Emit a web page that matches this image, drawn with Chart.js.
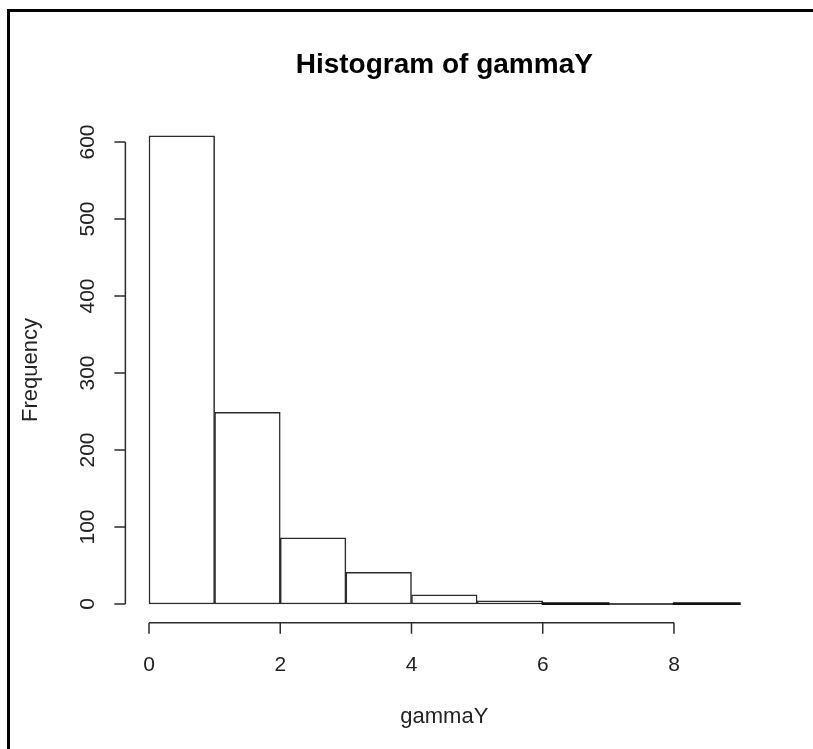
<!DOCTYPE html>
<html><head><meta charset="utf-8">
<script src="https://cdn.jsdelivr.net/npm/chart.js@4/dist/chart.umd.min.js"></script>
<style>html,body{margin:0;padding:0;background:#fff;overflow:hidden}#wrap{width:813px;height:749px;position:relative}</style>
</head><body><div id="wrap"><canvas id="c" width="813" height="749"></canvas></div>
<script>
const binStarts = [0, 1, 2, 3, 4, 5, 6, 7, 8];
const binEnds = [1, 2, 3, 4, 5, 6, 7, 8, 9];
const frequencies = [608, 249, 86, 41, 12, 4, 1, 0, 1];
const xTickValues = [0, 2, 4, 6, 8];
const yTickValues = [0, 100, 200, 300, 400, 500, 600];
const chartTitle = 'Histogram of gammaY';
const xLabel = 'gammaY';
const yLabel = 'Frequency';

const FONT = '"Liberation Sans", Arial, Helvetica, sans-serif';
const LINE = '#2b2b2b';

const barData = binStarts.map((s, i) => ({ x: (s + binEnds[i]) / 2, y: frequencies[i] }));

const rStyle = {
  id: 'rStyle',
  afterDatasetsDraw(chart) {
    const ctx = chart.ctx;
    const meta = chart.getDatasetMeta(0);
    ctx.save();
    ctx.strokeStyle = '#111';
    meta.data.forEach(el => {
      const p = el.getProps(['x', 'y', 'base', 'width'], true);
      const h = Math.abs(p.base - p.y);
      if (h < 3) {
        ctx.lineWidth = h > 0.1 ? 2.2 : 1.3;
        ctx.beginPath();
        ctx.rect(p.x - p.width / 2, Math.min(p.y, p.base), p.width, h);
        ctx.stroke();
      }
    });
    ctx.restore();
  },
  afterDraw(chart) {
    const ctx = chart.ctx;
    const xs = chart.scales.x, ys = chart.scales.y;
    const xMin = Math.min(...binStarts), xMax = Math.max(...binEnds);
    const yTop = Math.max(...frequencies);
    const axisX = xs.getPixelForValue(xMin - 0.04 * (xMax - xMin));
    const axisY = ys.getPixelForValue(-0.04 * yTop);
    const tick = 11;
    ctx.save();
    ctx.fillStyle = '#000';
    ctx.fillRect(7, 9, 3, 749);
    ctx.fillRect(7, 9, 813, 3);

    ctx.strokeStyle = LINE;
    ctx.lineWidth = 1.5;
    ctx.beginPath();
    ctx.moveTo(xs.getPixelForValue(xTickValues[0]), axisY);
    ctx.lineTo(xs.getPixelForValue(xTickValues[xTickValues.length - 1]), axisY);
    xTickValues.forEach(v => {
      const px = xs.getPixelForValue(v);
      ctx.moveTo(px, axisY);
      ctx.lineTo(px, axisY + tick);
    });
    ctx.moveTo(axisX, ys.getPixelForValue(yTickValues[0]));
    ctx.lineTo(axisX, ys.getPixelForValue(yTickValues[yTickValues.length - 1]));
    yTickValues.forEach(v => {
      const py = ys.getPixelForValue(v);
      ctx.moveTo(axisX, py);
      ctx.lineTo(axisX - tick, py);
    });
    ctx.stroke();

    ctx.fillStyle = '#222';
    ctx.font = '21px ' + FONT;
    ctx.textAlign = 'center';
    ctx.textBaseline = 'middle';
    xTickValues.forEach(v => {
      ctx.fillText(String(v), xs.getPixelForValue(v), 665);
    });
    yTickValues.forEach(v => {
      ctx.save();
      ctx.translate(88, ys.getPixelForValue(v));
      ctx.rotate(-Math.PI / 2);
      ctx.fillText(String(v), 0, 0);
      ctx.restore();
    });
    const cx = (xs.getPixelForValue(xMin - 0.04 * (xMax - xMin)) + xs.getPixelForValue(xMax + 0.04 * (xMax - xMin))) / 2;
    const cy = (axisY + ys.getPixelForValue(yTop * 1.04)) / 2;
    ctx.font = '22px ' + FONT;
    ctx.fillText(xLabel, cx, 717);
    ctx.save();
    ctx.translate(31, cy);
    ctx.rotate(-Math.PI / 2);
    ctx.fillText(yLabel, 0, 0);
    ctx.restore();
    ctx.fillStyle = '#000';
    ctx.font = 'bold 28px ' + FONT;
    ctx.fillText(chartTitle, cx, 65);
    ctx.restore();
  }
};

new Chart(document.getElementById('c'), {
  type: 'bar',
  data: {
    datasets: [{
      label: 'Frequency',
      data: barData,
      backgroundColor: '#ffffff',
      borderColor: LINE,
      borderWidth: 1.5,
      borderSkipped: false,
      barPercentage: 1.0,
      categoryPercentage: 1.0,
      clip: false
    }]
  },
  options: {
    responsive: false,
    animation: false,
    devicePixelRatio: 1,
    layout: { padding: { left: 149, right: 73.4, top: 142, bottom: 145 } },
    plugins: { legend: { display: false }, title: { display: false }, tooltip: { enabled: false } },
    scales: {
      x: { type: 'linear', min: 0, max: 9, offset: false, display: false },
      y: { type: 'linear', min: 0, max: 600, display: false }
    }
  },
  plugins: [rStyle]
});
</script>
</body></html>
